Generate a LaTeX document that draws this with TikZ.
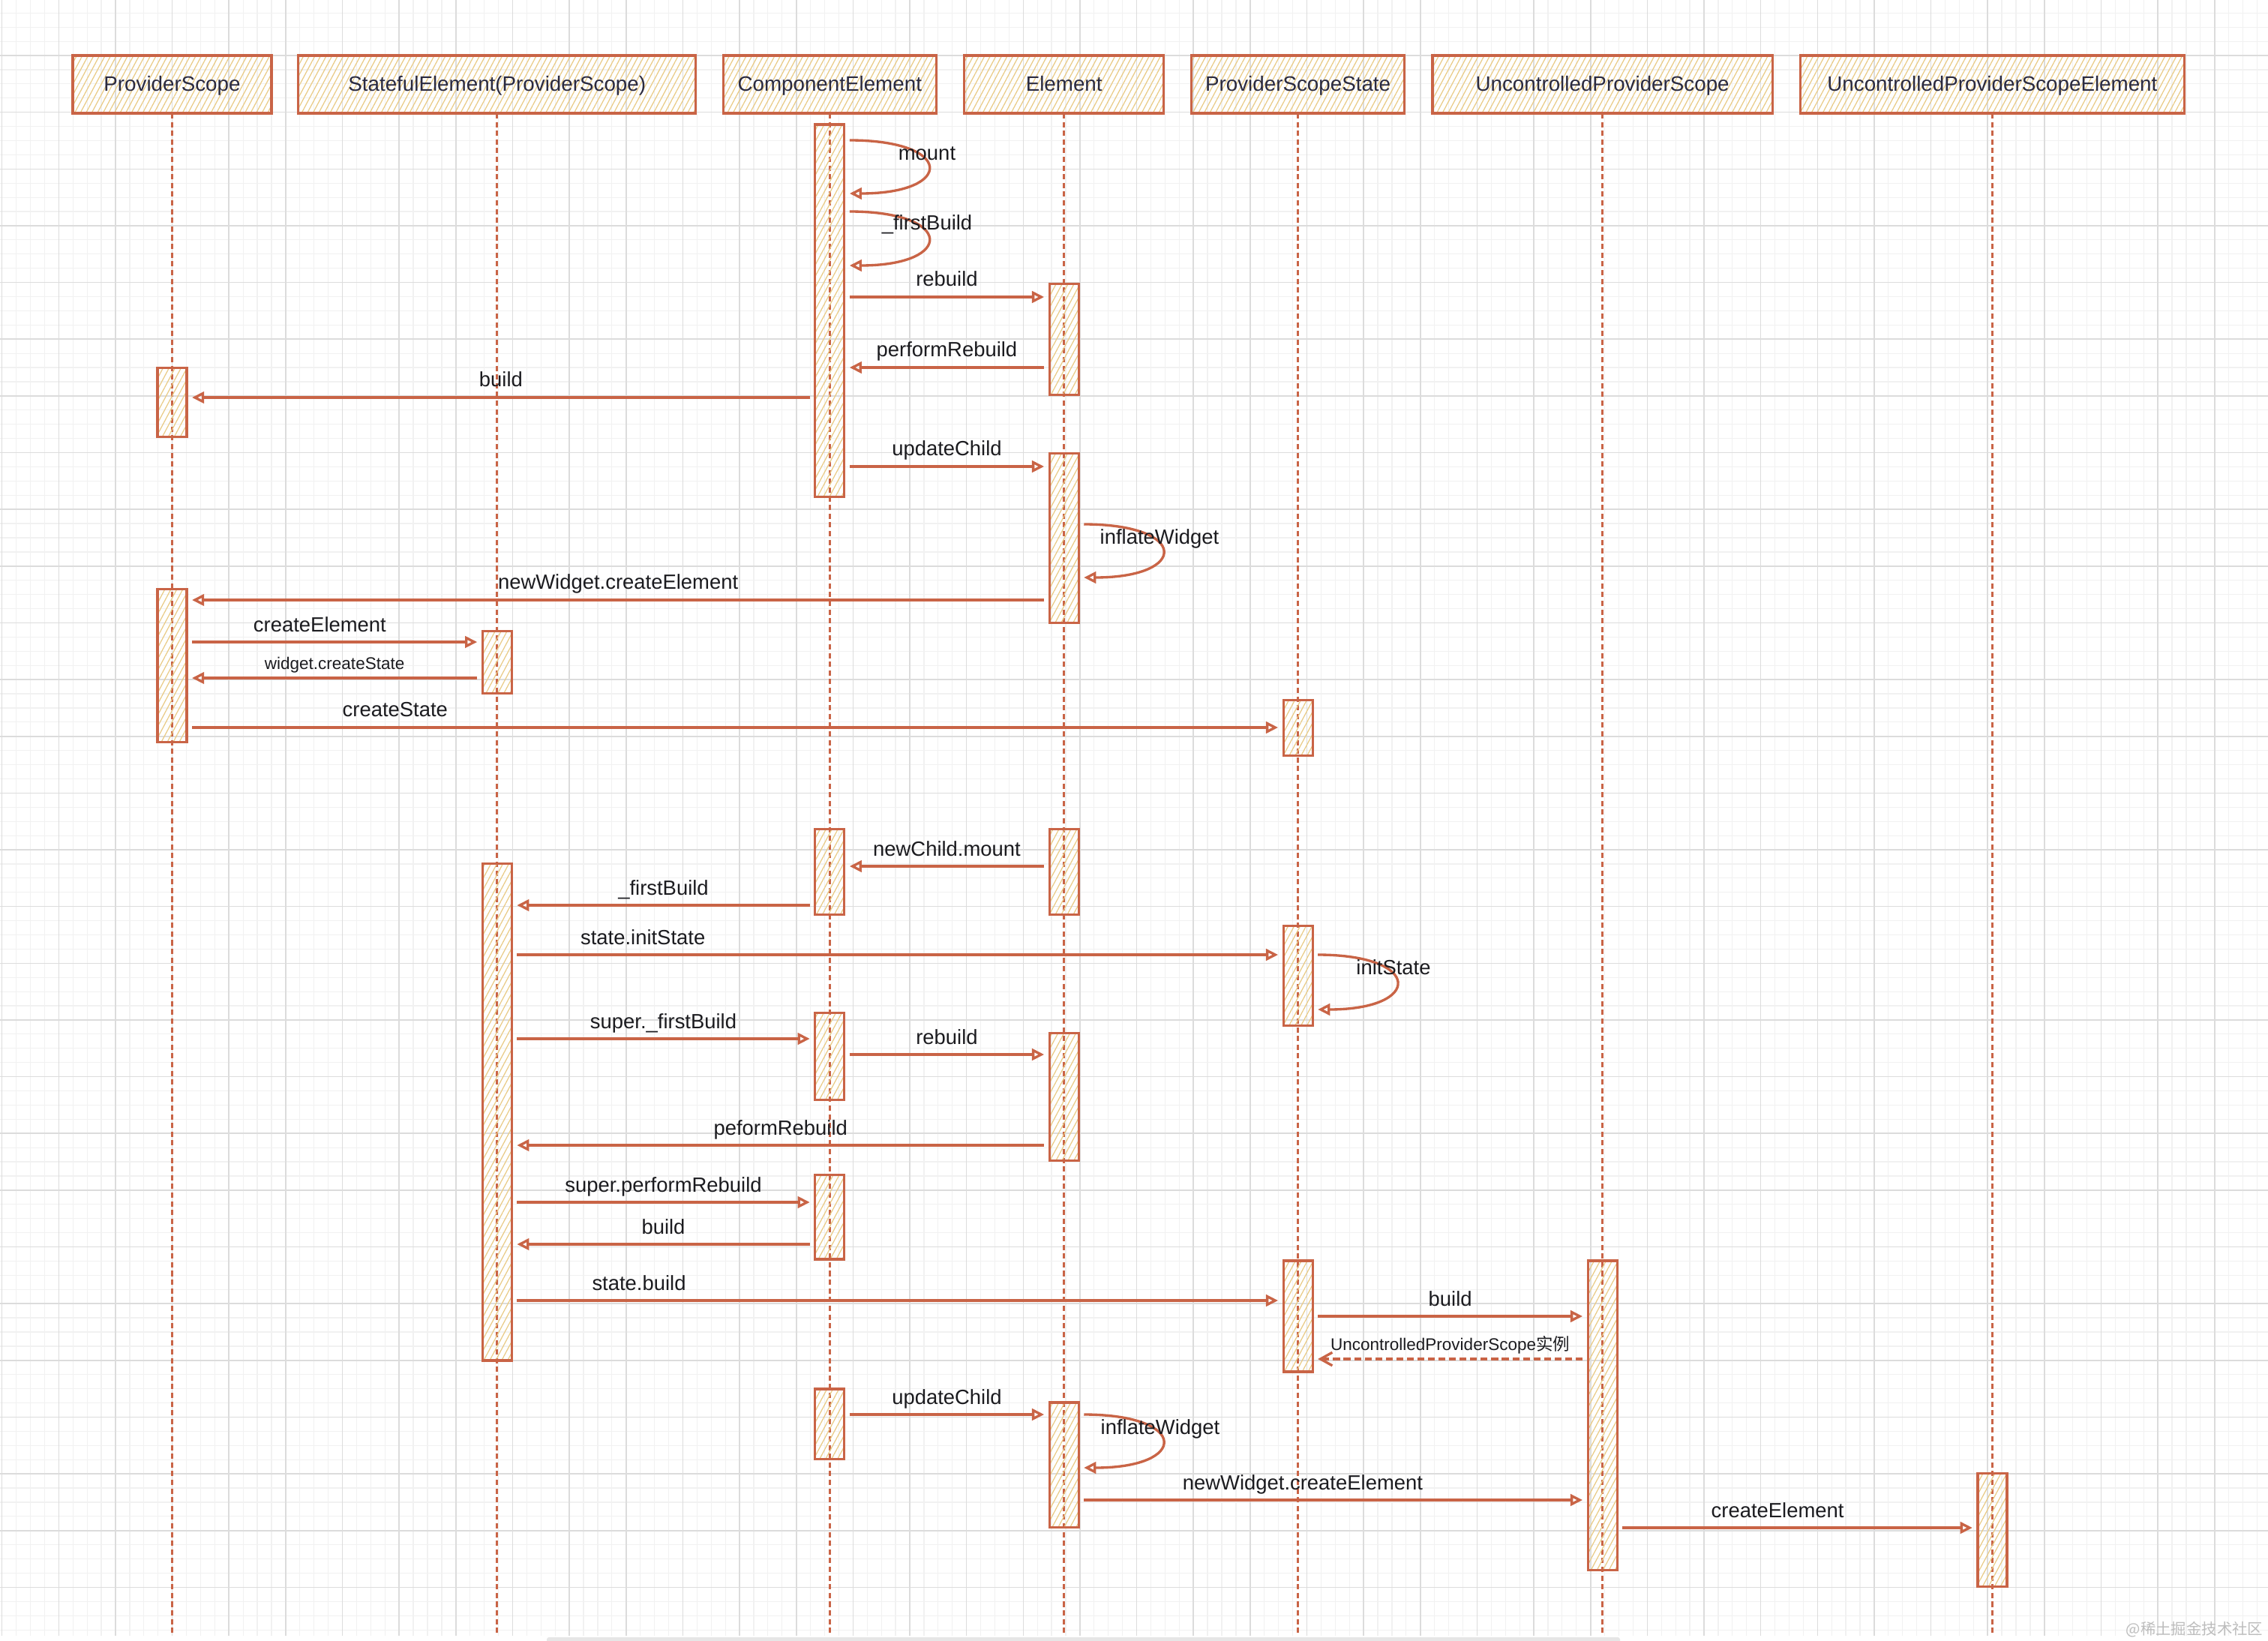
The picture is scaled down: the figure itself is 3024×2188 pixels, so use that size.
\documentclass[tikz,border=0pt]{standalone}
\usepackage{fontspec}
\setmainfont{Liberation Sans}
\newfontfamily\cjkfont{Noto Sans CJK SC}
\usetikzlibrary{positioning, arrows.meta, patterns.meta}
\definecolor{rough}{HTML}{C96446}
\definecolor{hatch}{HTML}{E9CB86}
\definecolor{gridmajor}{HTML}{DCDCDC}
\definecolor{gridminor}{HTML}{F1F1F1}
\definecolor{ink}{HTML}{1B1B1F}
\definecolor{headink}{HTML}{2A2A40}
\definecolor{wmgray}{HTML}{BDBDBD}
\definecolor{scrollgray}{HTML}{E6E6E6}

\begin{document}
\begin{tikzpicture}[x=0.01cm, y=-0.01cm,
        head/.style={draw=rough, line width=0.9pt, pattern={Lines[angle=62, distance=1.9pt, line width=0.35pt]}, pattern color=hatch, minimum height=0.77cm, inner sep=0pt, outer sep=0pt, text=headink, text height=0.72em, text depth=0.22em, font=\fontsize{7.9}{9.5}\selectfont},
        actbar/.style={draw=rough, line width=0.9pt, pattern={Lines[angle=62, distance=2pt, line width=0.35pt]}, pattern color=hatch, minimum width=0.39cm, inner sep=0pt, outer sep=0pt},
        life/.style={draw=rough, line width=0.8pt, dash pattern=on 2pt off 1.3pt},
        msg/.style={draw=rough, line width=0.95pt, -{Triangle[open, length=4.6pt, width=4.4pt]}, shorten <=2pt, shorten >=2pt},
        reply/.style={msg, dash pattern=on 2.6pt off 1.4pt, -{Straight Barb[length=4.5pt, width=5pt]}},
        lbl/.style={inner sep=0pt, text=ink, font=\fontsize{7.8}{9}\selectfont},
        mlbl/.style={lbl, anchor=base, yshift=0.14cm},
        slbl/.style={mlbl, yshift=-0.02cm, font=\fontsize{6.4}{8}\selectfont}]
        \useasboundingbox (0,0) rectangle (3024,2188);
        \fill[white] (0,0) rectangle (3024,2188);
        \begin{scope}
            \clip (0,0) rectangle (3024,2180);
            \draw[gridminor, line width=0.35pt, xshift=0.027cm, yshift=0.016cm] (-1cm,-23cm) grid[step=0.189cm] (31cm,1cm);
            \draw[gridmajor, line width=0.45pt, xshift=0.027cm, yshift=0.016cm] (-1cm,-23cm) grid[step=0.756cm] (31cm,1cm);
        \end{scope}
        \fill[scrollgray, rounded corners=0.03cm] (729,2183) rectangle (2160,2194);

        \node[head, minimum width=2.65cm] (ps) at (229.5,112.5) {ProviderScope};
        \node[head, minimum width=5.30cm, right=0.355cm of ps] (se) {StatefulElement(ProviderScope)};
        \node[head, minimum width=2.835cm, right=0.365cm of se] (ce) {ComponentElement};
        \node[head, minimum width=2.66cm, right=0.375cm of ce] (el) {Element};
        \node[head, minimum width=2.835cm, right=0.37cm of el] (pss) {ProviderScopeState};
        \node[head, minimum width=4.53cm, right=0.375cm of pss] (ups) {UncontrolledProviderScope};
        \node[head, minimum width=5.11cm, right=0.375cm of ups] (upse) {UncontrolledProviderScopeElement};

        \coordinate (bottom) at (0,2180);
        \draw[life] (ps.south) -- (ps.south |- bottom);
        \draw[life] (se.south) -- (se.south |- bottom);
        \draw[life] (ce.south) -- (ce.south |- bottom);
        \draw[life] (el.south) -- (el.south |- bottom);
        \draw[life] (pss.south) -- (pss.south |- bottom);
        \draw[life] (ups.south) -- (ups.south |- bottom);
        \draw[life] (upse.south) -- (upse.south |- bottom);

        \node[actbar, minimum height=4.96cm, below=0.15cm of ce] (ceA) {};
        \node[actbar, minimum height=1.485cm, below=2.27cm of el] (eA) {};
        \node[actbar, minimum height=0.92cm, below=3.39cm of ps] (psA) {};
        \node[actbar, minimum height=2.26cm, below=4.53cm of el] (eB) {};
        \node[actbar, minimum height=2.04cm, below=6.34cm of ps] (psB) {};
        \node[actbar, minimum height=0.83cm, below=6.90cm of se] (seA) {};
        \node[actbar, minimum height=0.74cm, below=7.82cm of pss] (pssA) {};
        \node[actbar, minimum height=1.14cm, below=9.54cm of ce] (ceB) {};
        \node[actbar, minimum height=1.14cm, below=9.54cm of el] (eC) {};
        \node[actbar, minimum height=6.62cm, below=10.00cm of se] (seB) {};
        \node[actbar, minimum height=1.33cm, below=10.83cm of pss] (pssB) {};
        \node[actbar, minimum height=1.16cm, below=11.99cm of ce] (ceC) {};
        \node[actbar, minimum height=1.70cm, below=12.26cm of el] (eD) {};
        \node[actbar, minimum height=1.12cm, below=14.15cm of ce] (ceD) {};
        \node[actbar, minimum height=1.48cm, below=15.29cm of pss] (pssC) {};
        \node[actbar, minimum height=4.12cm, below=15.29cm of ups] (upsA) {};
        \node[actbar, minimum height=0.93cm, below=17.00cm of ce] (ceE) {};
        \node[actbar, minimum height=1.66cm, below=17.18cm of el] (eE) {};
        \node[actbar, minimum height=1.51cm, below=18.12cm of upse] (upseA) {};

        \draw[msg] (ceA.east |- 0,187) .. controls +(147,0) and +(147,0) .. (ceA.east |- 0,258);
        \node[lbl, anchor=base] (tMount) at (1236,213) {mount};
        \draw[msg] (ceA.east |- 0,282) .. controls +(147,0) and +(147,0) .. (ceA.east |- 0,354);
        \node[lbl, anchor=base] (tFirst) at (1236,307) {\_firstBuild};
        \draw[msg] (ceA.east |- 0,396) -- (eA.west |- 0,396) node[mlbl, midway] (tRebuild) {rebuild};
        \draw[msg] (eA.west |- 0,490) -- (ceA.east |- 0,490) node[mlbl, midway] (tPerform) {performRebuild};
        \draw[msg] (ceA.west |- 0,530) -- (psA.east |- 0,530) node[mlbl, midway] (tBuild) {build};
        \draw[msg] (ceA.east |- 0,622) -- (eB.west |- 0,622) node[mlbl, midway] (tUpdate) {updateChild};
        \draw[msg] (eB.east |- 0,699) .. controls +(147,0) and +(147,0) .. (eB.east |- 0,770);
        \node[lbl, anchor=base] (tInflate) at (1546,725) {inflateWidget};
        \draw[msg] (eB.west |- 0,800) -- (psB.east |- 0,800) node[mlbl, midway] (tNewWidget) {newWidget.createElement};
        \draw[msg] (psB.east |- 0,856) -- (seA.west |- 0,856) node[mlbl, pos=0.45] (tCreateEl) {createElement};
        \draw[msg] (seA.west |- 0,904) -- (psB.east |- 0,904) node[slbl, midway] (tWidgetState) {widget.createState};
        \draw[msg] (psB.east |- 0,970) -- (pssA.west |- 0,970) node[mlbl, pos=0.19] (tCreateState) {createState};

        \draw[msg] (eC.west |- 0,1155) -- (ceB.east |- 0,1155) node[mlbl, midway] (tNewChild) {newChild.mount};
        \draw[msg] (ceB.west |- 0,1207) -- (seB.east |- 0,1207) node[mlbl, midway] (tFirstB) {\_firstBuild};
        \draw[msg] (seB.east |- 0,1273) -- (pssB.west |- 0,1273) node[mlbl, pos=0.17] (tInitState) {state.initState};
        \draw[msg] (pssB.east |- 0,1273) .. controls +(147,0) and +(147,0) .. (pssB.east |- 0,1346);
        \node[lbl, anchor=base] (tInit) at (1858,1299) {initState};
        \draw[msg] (seB.east |- 0,1385) -- (ceC.west |- 0,1385) node[mlbl, midway] (tSuperFirst) {super.\_firstBuild};
        \draw[msg] (ceC.east |- 0,1406) -- (eD.west |- 0,1406) node[mlbl, midway] (tRebuildB) {rebuild};
        \draw[msg] (eD.west |- 0,1527) -- (seB.east |- 0,1527) node[mlbl, midway] (tPeform) {peformRebuild};
        \draw[msg] (seB.east |- 0,1603) -- (ceD.west |- 0,1603) node[mlbl, midway] (tSuperPerform) {super.performRebuild};
        \draw[msg] (ceD.west |- 0,1659) -- (seB.east |- 0,1659) node[mlbl, midway] (tBuildB) {build};
        \draw[msg] (seB.east |- 0,1734) -- (pssC.west |- 0,1734) node[mlbl, pos=0.165] (tStateBuild) {state.build};
        \draw[msg] (pssC.east |- 0,1755) -- (upsA.west |- 0,1755) node[mlbl, midway] (tBuildC) {build};
        \draw[reply] (upsA.west |- 0,1812) -- (pssC.east |- 0,1812) node[slbl, midway] (tInstance) {UncontrolledProviderScope{\cjkfont 实例}};
        \draw[msg] (ceE.east |- 0,1886) -- (eE.west |- 0,1886) node[mlbl, midway] (tUpdateB) {updateChild};
        \draw[msg] (eE.east |- 0,1886) .. controls +(147,0) and +(147,0) .. (eE.east |- 0,1957);
        \node[lbl, anchor=base] (tInflateB) at (1547,1912) {inflateWidget};
        \draw[msg] (eE.east |- 0,2000) -- (upsA.west |- 0,2000) node[mlbl, pos=0.44] (tNewWidgetB) {newWidget.createElement};
        \draw[msg] (upsA.east |- 0,2037) -- (upseA.west |- 0,2037) node[mlbl, pos=0.445] (tCreateElB) {createElement};

        \node[anchor=east, inner sep=0pt, text=wmgray, font=\cjkfont\fontsize{5.8}{7}\selectfont] (watermark) at (3018,2173) {@稀土掘金技术社区};
\end{tikzpicture}
\end{document}
